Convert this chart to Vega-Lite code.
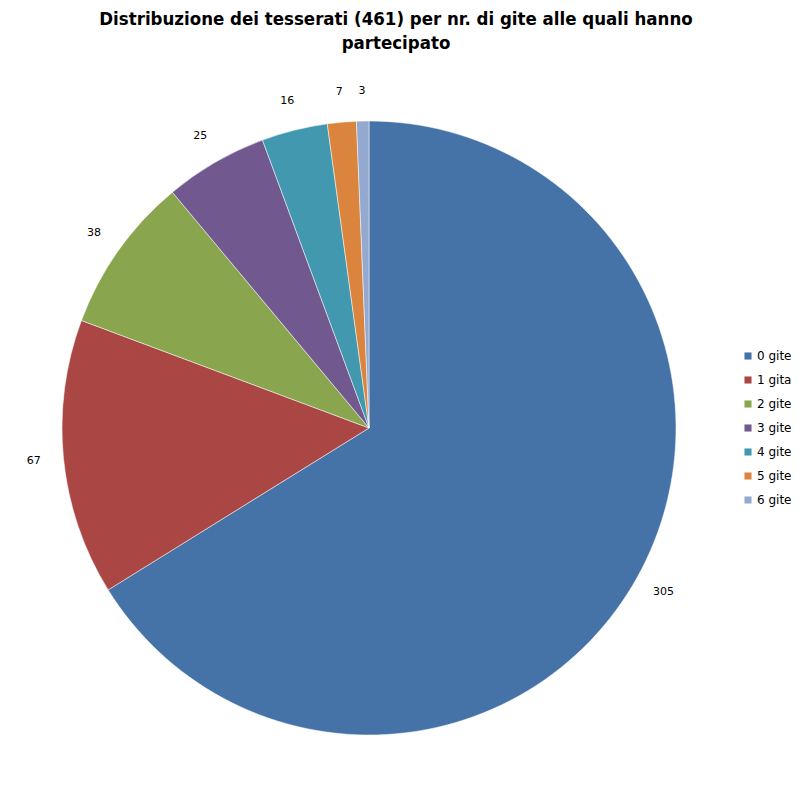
{
  "$schema": "https://vega.github.io/schema/vega-lite/v6.json",
  "width": 738,
  "height": 744,
  "autosize": "none",
  "padding": {"left": 0, "top": 56, "right": 62, "bottom": 0},
  "background": "white",
  "title": {
    "text": ["Distribuzione dei tesserati (461) per nr. di gite alle quali hanno", "partecipato"],
    "font": "DejaVu Sans Condensed",
    "fontSize": 18.5,
    "fontWeight": "bold",
    "color": "black",
    "anchor": "middle",
    "frame": "bounds",
    "lineHeight": 24,
    "offset": 4
  },
  "data": {
    "values": [
      {"categoria": "0 gite", "tesserati": 305},
      {"categoria": "1 gita", "tesserati": 67},
      {"categoria": "2 gite", "tesserati": 38},
      {"categoria": "3 gite", "tesserati": 25},
      {"categoria": "4 gite", "tesserati": 16},
      {"categoria": "5 gite", "tesserati": 7},
      {"categoria": "6 gite", "tesserati": 3}
    ]
  },
  "encoding": {
    "theta": {"field": "tesserati", "type": "quantitative", "stack": true},
    "order": {"field": "categoria", "type": "nominal"},
    "color": {
      "field": "categoria",
      "type": "nominal",
      "title": null,
      "scale": {
        "domain": ["0 gite", "1 gita", "2 gite", "3 gite", "4 gite", "5 gite", "6 gite"],
        "range": ["#4572A7", "#AA4643", "#89A54E", "#71588F", "#4198AF", "#DB843D", "#93A9CF"]
      },
      "legend": {
        "orient": "none",
        "legendX": 742,
        "legendY": 294,
        "symbolType": "square",
        "symbolSize": 50,
        "symbolStrokeWidth": 0,
        "labelFont": "DejaVu Sans",
        "labelFontSize": 12,
        "labelColor": "black",
        "rowPadding": 12,
        "labelOffset": 3
      }
    }
  },
  "layer": [
    {
      "mark": {"type": "arc", "outerRadius": 307, "stroke": "white", "strokeWidth": 0.5}
    },
    {
      "mark": {"type": "text", "radius": 337, "font": "DejaVu Sans", "fontSize": 11, "color": "black"},
      "encoding": {
        "text": {"field": "tesserati", "type": "quantitative"},
        "color": {"value": "black"}
      }
    }
  ],
  "config": {
    "view": {"stroke": null}
  }
}
